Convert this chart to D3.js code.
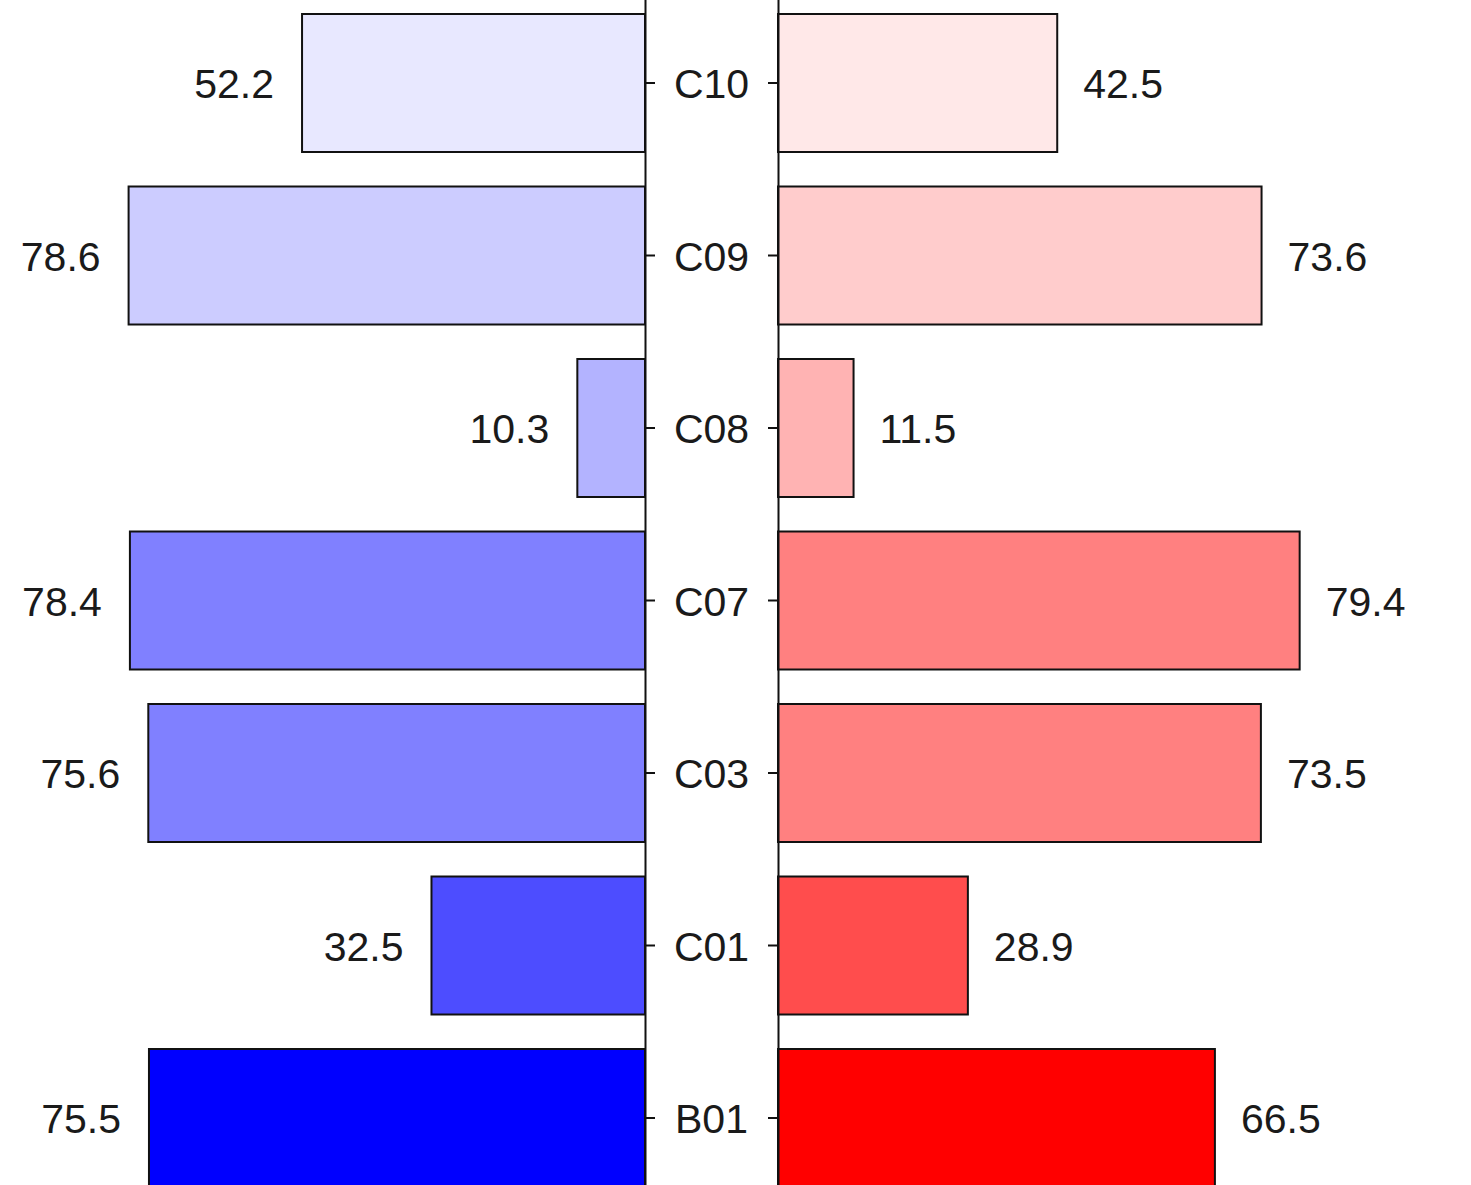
<!DOCTYPE html>
<html>
<head>
<meta charset="utf-8">
<script src="https://cdn.jsdelivr.net/npm/d3@7"></script>
<style>
  body { margin: 0; background: #fff; }
  text { font-family: "Liberation Sans", Arial, sans-serif; }
</style>
</head>
<body>
<div id="container"></div>
<script>
var width = 1471,
    height = 1185;

// data, top to bottom
var categories = ["C10", "C09", "C08", "C07", "C03", "C01", "B01"];
var leftValues = [52.2, 78.6, 10.3, 78.4, 75.6, 32.5, 75.5];
var rightValues = [42.5, 73.6, 11.5, 79.4, 73.5, 28.9, 66.5];
var leftColors = ["#e8e8ff", "#ccccff", "#b3b3ff", "#8080ff", "#8080ff", "#4d4dff", "#0000ff"];
var rightColors = ["#ffe8e8", "#ffcccc", "#ffb3b3", "#ff8080", "#ff8080", "#ff4d4d", "#ff0000"];

var leftAxisX = 645,
    rightAxisX = 778;

var svg = d3.select("#container").append("svg")
    .attr("width", width)
    .attr("height", height);

var y = d3.scaleBand()
    .domain(categories)
    .range([-3.25, 1204.25])
    .paddingInner(0.2)
    .paddingOuter(0.1);

var xLen = d3.scaleLinear().domain([0, 100]).range([0, 657]);

var rows = categories.map(function (c, i) {
    return { cat: c, left: leftValues[i], right: rightValues[i], lc: leftColors[i], rc: rightColors[i] };
});

// left bars
svg.selectAll(".barL").data(rows).enter().append("rect")
    .attr("class", "barL")
    .attr("x", d => leftAxisX - xLen(d.left))
    .attr("y", d => y(d.cat))
    .attr("width", d => xLen(d.left))
    .attr("height", y.bandwidth())
    .attr("fill", d => d.lc)
    .attr("stroke", "#111")
    .attr("stroke-width", 2);

// right bars
svg.selectAll(".barR").data(rows).enter().append("rect")
    .attr("class", "barR")
    .attr("x", rightAxisX)
    .attr("y", d => y(d.cat))
    .attr("width", d => xLen(d.right))
    .attr("height", y.bandwidth())
    .attr("fill", d => d.rc)
    .attr("stroke", "#111")
    .attr("stroke-width", 2);

// value labels
svg.selectAll(".lblL").data(rows).enter().append("text")
    .attr("x", d => leftAxisX - xLen(d.left) - 28)
    .attr("y", d => y(d.cat) + y.bandwidth() / 2)
    .attr("dy", "0.37em")
    .attr("text-anchor", "end")
    .attr("font-size", 41)
    .attr("fill", "#1a1a1a")
    .text(d => d.left.toFixed(1));

svg.selectAll(".lblR").data(rows).enter().append("text")
    .attr("x", d => rightAxisX + xLen(d.right) + 26)
    .attr("y", d => y(d.cat) + y.bandwidth() / 2)
    .attr("dy", "0.37em")
    .attr("text-anchor", "start")
    .attr("font-size", 41)
    .attr("fill", "#1a1a1a")
    .text(d => d.right.toFixed(1));

// axes
var axL = svg.append("g")
    .attr("transform", "translate(" + leftAxisX + ",0)")
    .call(d3.axisRight(y).tickSize(10).tickSizeOuter(0).tickFormat(""));
var axR = svg.append("g")
    .attr("transform", "translate(" + rightAxisX + ",0)")
    .call(d3.axisLeft(y).tickSize(10).tickSizeOuter(0).tickFormat(""));

[axL, axR].forEach(function (g) {
    g.select(".domain").attr("stroke", "#111").attr("stroke-width", 2);
    g.selectAll(".tick line").attr("stroke", "#111").attr("stroke-width", 2);
});

// category labels in the middle
svg.selectAll(".cat").data(categories).enter().append("text")
    .attr("x", (leftAxisX + rightAxisX) / 2)
    .attr("y", d => y(d) + y.bandwidth() / 2)
    .attr("dy", "0.37em")
    .attr("text-anchor", "middle")
    .attr("font-size", 41)
    .attr("fill", "#1a1a1a")
    .text(d => d);
</script>
</body>
</html>
